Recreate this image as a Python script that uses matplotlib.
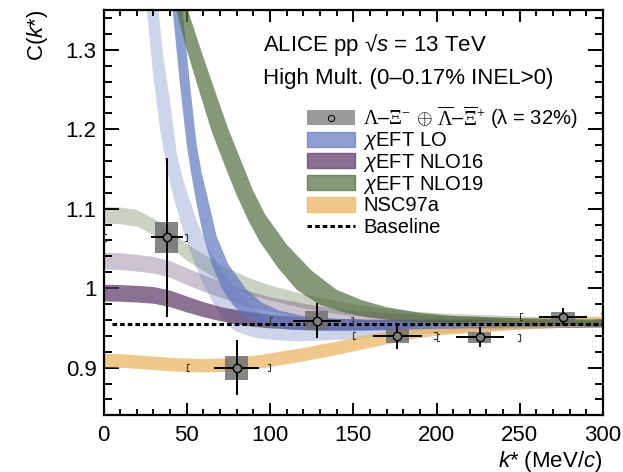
import numpy as np
import matplotlib
matplotlib.use('Agg')
import matplotlib.pyplot as plt
from matplotlib.patches import Rectangle
from matplotlib.ticker import MultipleLocator, FuncFormatter

plt.rcParams['font.family'] = ['Liberation Sans', 'DejaVu Sans']
plt.rcParams['mathtext.fontset'] = 'custom'
plt.rcParams['mathtext.rm'] = 'Liberation Serif'
plt.rcParams['mathtext.it'] = 'Liberation Sans:italic'
plt.rcParams['mathtext.sf'] = 'Liberation Sans'

# ======================
# 1. data points (Lambda-Xi correlation)
# ======================
pt_k = [38, 80, 128, 176.5, 226, 276]
pt_c = [1.064, 0.900, 0.959, 0.940, 0.938, 0.964]
pt_stat = [0.100, 0.035, 0.022, 0.016, 0.0125, 0.011]
pt_kerr = [9.5, 13.5, 14.4, 14.5, 14.3, 14.5]
pt_sys = [0.0195, 0.015, 0.0117, 0.0092, 0.007, 0.0065]
bin_lo = [0, 50, 100, 150, 200, 250]
bin_hi = [50, 100, 150, 200, 250, 300]

# ======================
# 2. model bands
# ======================
# smooth bands, common k grid
k_soft = [0, 10, 20, 30, 40, 50, 60, 70, 80, 90, 100, 120, 140, 160, 180, 200, 250, 300]

# NLO19 (light)
n19l_lo = [1.082, 1.081, 1.078, 1.067, 1.052, 1.035, 1.022, 1.009, 0.999, 0.991, 0.985,
           0.975, 0.968, 0.963, 0.960, 0.958, 0.955, 0.954]
n19l_hi = [1.103, 1.102, 1.099, 1.088, 1.073, 1.056, 1.043, 1.030, 1.020, 1.011, 1.004,
           0.993, 0.984, 0.977, 0.972, 0.969, 0.965, 0.962]
# NLO16 (light)
n16l_lo = [1.024, 1.0235, 1.0215, 1.019, 1.0135, 1.0045, 0.996, 0.989, 0.981, 0.975, 0.971,
           0.964, 0.960, 0.957, 0.956, 0.954, 0.953, 0.952]
n16l_hi = [1.045, 1.0445, 1.0425, 1.040, 1.0345, 1.0255, 1.017, 1.009, 1.001, 0.995, 0.989,
           0.981, 0.974, 0.971, 0.968, 0.966, 0.963, 0.962]
# NLO16
n16_lo = [0.984, 0.9835, 0.9825, 0.981, 0.9765, 0.970, 0.964, 0.959, 0.955, 0.952, 0.950,
          0.948, 0.948, 0.948, 0.949, 0.949, 0.950, 0.951]
n16_hi = [1.005, 1.0045, 1.0035, 1.002, 0.9975, 0.990, 0.983, 0.977, 0.973, 0.970, 0.967,
          0.964, 0.962, 0.961, 0.961, 0.961, 0.961, 0.961]
# NSC97a
nsc_lo = [0.901, 0.9005, 0.899, 0.8975, 0.896, 0.895, 0.8945, 0.895, 0.8965, 0.8985, 0.9015,
          0.9085, 0.9165, 0.9255, 0.9345, 0.941, 0.9485, 0.953]
nsc_hi = [0.918, 0.9175, 0.916, 0.9145, 0.913, 0.912, 0.9115, 0.912, 0.9135, 0.9155, 0.9185,
          0.9255, 0.9335, 0.9425, 0.9495, 0.955, 0.9615, 0.965]

# steep bands: lower edge and upper edge each with own k points
# LO (light)
lol_k_lo = [22, 26, 30, 34, 38, 42, 46, 50, 55, 60, 65, 70, 75, 80, 90, 100, 115, 130, 150, 175, 200, 250, 300]
lol_c_lo = [1.52, 1.35, 1.265, 1.20, 1.15, 1.115, 1.085, 1.058, 1.03, 1.005, 0.985, 0.966, 0.953,
            0.945, 0.938, 0.935, 0.933, 0.934, 0.936, 0.940, 0.943, 0.948, 0.952]
lol_k_hi = [28, 33, 36, 40, 44, 48, 52, 56, 61, 66, 72, 80, 90, 100, 110, 125, 150, 175, 200, 250, 300]
lol_c_hi = [1.55, 1.35, 1.29, 1.235, 1.17, 1.135, 1.11, 1.085, 1.06, 1.04, 1.02, 0.998, 0.975,
            0.958, 0.951, 0.949, 0.950, 0.952, 0.954, 0.956, 0.958]
# LO
lo_k_lo = [38, 41.5, 46, 50, 53, 56, 60, 65, 71, 78, 85, 95, 110, 130, 150, 175, 200, 250, 300]
lo_c_lo = [1.45, 1.35, 1.255, 1.18, 1.14, 1.105, 1.065, 1.03, 1.0, 0.978, 0.964, 0.954, 0.948,
           0.946, 0.946, 0.947, 0.949, 0.951, 0.953]
lo_k_hi = [44, 47.5, 52, 56, 59, 63, 68, 75, 86, 95, 105, 120, 140, 160, 200, 250, 300]
lo_c_hi = [1.45, 1.35, 1.255, 1.18, 1.145, 1.11, 1.065, 1.03, 0.998, 0.982, 0.972, 0.965, 0.961,
           0.959, 0.958, 0.958, 0.958]
# NLO19
n19_k_lo = [38, 44, 50, 56.6, 65, 74, 80, 87, 94, 105, 116, 130, 145, 160, 180, 200, 250, 300]
n19_c_lo = [1.42, 1.348, 1.30, 1.254, 1.197, 1.148, 1.117, 1.085, 1.058, 1.025, 0.998, 0.979,
            0.969, 0.963, 0.958, 0.956, 0.953, 0.952]
n19_k_hi = [46, 51, 58, 66, 75, 85, 90, 97, 110, 125, 140, 155, 170, 190, 210, 250, 300]
n19_c_hi = [1.38, 1.348, 1.303, 1.254, 1.20, 1.148, 1.122, 1.093, 1.055, 1.022, 0.998, 0.985,
            0.976, 0.969, 0.965, 0.962, 0.960]

k_base = [5, 300]
c_base = [0.9546, 0.9546]

col_lo = '#5f77bf'
col_n16 = '#5a3766'
col_n19 = '#516d3d'
col_nsc = '#eab15b'
a_strong = 0.7
a_light = 0.3

# ======================
# 3. figure
# ======================
fig = plt.figure(figsize=(6.23, 4.72), dpi=100)
ax = fig.add_axes([103.5 / 623, 1 - 415.3 / 472, 499.5 / 623, 405.3 / 472])


def steep_band(k_lo, c_lo, k_hi, c_hi, color, alpha, z):
    xs = np.concatenate([k_lo, k_hi[::-1]])
    ys = np.concatenate([c_lo, c_hi[::-1]])
    ax.fill(xs, ys, color=color, alpha=alpha, lw=0, zorder=z)


# light bands
ax.fill_between(k_soft, n19l_lo, n19l_hi, color=col_n19, alpha=a_light, lw=0, zorder=1)
ax.fill_between(k_soft, n16l_lo, n16l_hi, color=col_n16, alpha=a_light, lw=0, zorder=1)
steep_band(lol_k_lo, lol_c_lo, lol_k_hi, lol_c_hi, col_lo, a_light, 1)

# strong bands
ax.fill_between(k_soft, n16_lo, n16_hi, color=col_n16, alpha=a_strong, lw=0, zorder=2)
ax.fill_between(k_soft, nsc_lo, nsc_hi, color=col_nsc, alpha=a_strong, lw=0, zorder=2)
steep_band(lo_k_lo, lo_c_lo, lo_k_hi, lo_c_hi, col_lo, a_strong, 2)
steep_band(n19_k_lo, n19_c_lo, n19_k_hi, n19_c_hi, col_n19, a_strong, 2)

# baseline
ax.plot(k_base, c_base, color='black', lw=2.2, ls=(0, (1.5, 1.0)), zorder=3)

# data: sys boxes, stat errors, markers
pt_k = np.array(pt_k)
pt_c = np.array(pt_c)
pt_sys = np.array(pt_sys)
ax.bar(pt_k, 2 * pt_sys, bottom=pt_c - pt_sys, width=14, color='#707070', alpha=0.85,
       lw=0, zorder=4)
ax.errorbar(pt_k, pt_c, yerr=pt_stat, xerr=pt_kerr, fmt='none', ecolor='black',
            elinewidth=1.4, capsize=0, zorder=5)
ax.plot(pt_k, pt_c, 'o', ms=6, mfc='#808080', mec='black', mew=1.0, zorder=6)

# bin edge brackets
arm = 1.3
bh = 0.0045
for klo, khi, c in zip(bin_lo, bin_hi, pt_c):
    ax.plot([klo + arm, klo, klo, klo + arm], [c + bh, c + bh, c - bh, c - bh],
            color='#333333', lw=0.8, zorder=5)
    ax.plot([khi - arm, khi, khi, khi - arm], [c + bh, c + bh, c - bh, c - bh],
            color='#333333', lw=0.8, zorder=5)

# ======================
# 4. axes
# ======================
ax.set_xlim(0, 300)
ax.set_ylim(0.84, 1.35)
ax.xaxis.set_major_locator(MultipleLocator(50))
ax.xaxis.set_minor_locator(MultipleLocator(10))
ax.yaxis.set_major_locator(MultipleLocator(0.1))
ax.yaxis.set_minor_locator(MultipleLocator(0.02))
ax.yaxis.set_major_formatter(FuncFormatter(lambda v, p: '%g' % round(v, 2)))
ax.tick_params(axis='both', which='both', direction='in', top=True, right=True,
               width=1.4, labelsize=16)
ax.tick_params(axis='x', which='major', length=8.6, pad=7)
ax.tick_params(axis='x', which='minor', length=4.3)
ax.tick_params(axis='y', which='major', length=10.8, pad=5)
ax.tick_params(axis='y', which='minor', length=5.8)
for sp in ax.spines.values():
    sp.set_linewidth(1.6)

fig.text(37 / 623, 1 - 10 / 472, r'C($k$*)', rotation=90, ha='center', va='top', fontsize=16)
fig.text(602 / 623, 1 - 461 / 472, r'$k$* (MeV/$c$)', ha='right', va='center', fontsize=16)

ax.text(0.319, 0.8996, r'ALICE pp √$s$ = 13 TeV', transform=ax.transAxes,
        fontsize=16, va='baseline')
ax.text(0.319, 0.8174, 'High Mult. (0–0.17% INEL>0)', transform=ax.transAxes,
        fontsize=16, va='baseline')

# ======================
# 5. legend (drawn by hand)
# ======================
def px2ax(px, py):
    return (px - 103.5) / 499.5, (415.3 - py) / 405.3


leg_labels = [r'$\Lambda$–$\Xi^{-}$ $\oplus$ $\overline{\Lambda}$–$\overline{\Xi}^{+}$ (λ = 32%)',
              r'$\chi$EFT LO', r'$\chi$EFT NLO16', r'$\chi$EFT NLO19', 'NSC97a', 'Baseline']
leg_colors = ['#9b9b9b', col_lo, col_n16, col_n19, col_nsc, None]
hx0, _ = px2ax(306.7, 0)
hx1, _ = px2ax(355, 0)
tx, _ = px2ax(363, 0)
hh = 15 / 405.3
for i, (lab, colr) in enumerate(zip(leg_labels, leg_colors)):
    _, yc = px2ax(0, 117.5 + i * 21.67)
    if i == 0:
        ax.add_patch(Rectangle((hx0, yc - hh / 2), hx1 - hx0, hh, transform=ax.transAxes,
                               facecolor=colr, edgecolor='none', clip_on=False, zorder=7))
        ax.plot([(hx0 + hx1) / 2], [yc], 'o', ms=4.5, mfc='#9b9b9b', mec='black', mew=0.7,
                transform=ax.transAxes, clip_on=False, zorder=8)
    elif colr is None:
        ax.plot([hx0, hx1], [yc, yc], color='black', lw=2.2, ls=(0, (1.5, 1.0)),
                transform=ax.transAxes, clip_on=False, zorder=8)
    else:
        ax.add_patch(Rectangle((hx0, yc - hh / 2), hx1 - hx0, hh, transform=ax.transAxes,
                               facecolor=colr, alpha=a_strong, edgecolor=colr, lw=1.0,
                               clip_on=False, zorder=7))
    ax.text(tx, yc - 7.2 / 405.3, lab, transform=ax.transAxes, fontsize=14.5,
            va='baseline', zorder=8)

fig.savefig('out.png', dpi=100)
print('saved out.png')
